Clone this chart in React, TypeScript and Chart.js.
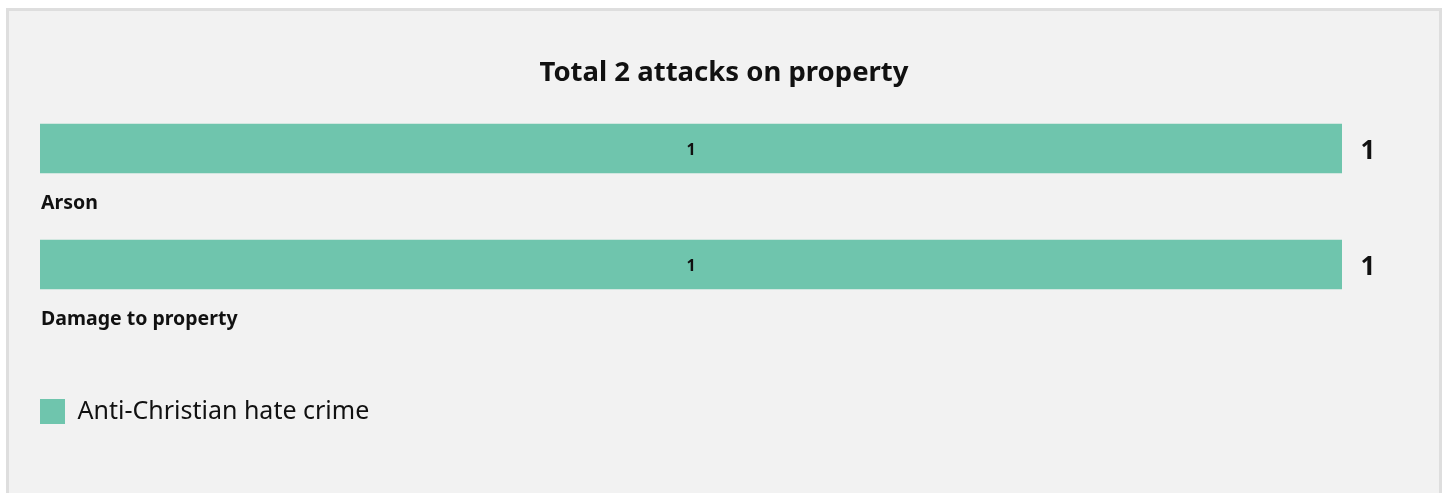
import React, { useEffect, useRef } from "react";
import { Chart, registerables } from "chart.js";

Chart.register(...registerables);

const categories = ["Arson", "Damage to property"];
const seriesName = "Anti-Christian hate crime";
const seriesValues = [1, 1];
const titleText = "Total 2 attacks on property";
const barColor = "#6fc5ad";
const FONT = "'Noto Sans', sans-serif";

const labelPlugin = {
  id: "barLabels",
  afterDatasetsDraw(chart: any) {
    const { ctx } = chart;
    const meta = chart.getDatasetMeta(0);
    ctx.save();
    meta.data.forEach((bar: any, i: number) => {
      const v = chart.data.datasets[0].data[i];
      const half = bar.height / 2;
      ctx.fillStyle = "#111";
      ctx.textBaseline = "middle";
      // inside label
      ctx.textAlign = "center";
      ctx.font = `bold 16px ${FONT}`;
      ctx.fillText(String(v), (bar.base + bar.x) / 2, bar.y + 2);
      // end label
      ctx.font = `bold 26px ${FONT}`;
      ctx.fillText(String(v), bar.x + 26, bar.y + 3);
      // category label below bar
      ctx.textAlign = "left";
      ctx.font = `bold 19.5px ${FONT}`;
      ctx.fillText(chart.data.labels[i], chart.chartArea.left + 1, bar.y + half + 30);
    });
    ctx.restore();
  },
};

export default function App() {
  const ref = useRef<HTMLCanvasElement>(null);
  useEffect(() => {
    if (!ref.current) return;
    const chart = new Chart(ref.current, {
      type: "bar",
      data: {
        labels: categories,
        datasets: [
          {
            label: seriesName,
            data: seriesValues,
            backgroundColor: barColor,
            borderWidth: 0,
            barThickness: 49,
          },
        ],
      },
      options: {
        indexAxis: "y",
        animation: false,
        responsive: false,
        devicePixelRatio: 1,
        layout: { padding: { left: 31, right: 31, top: 45.5, bottom: 59 } },
        scales: {
          x: {
            display: true,
            min: 0,
            max: 1,
            ticks: { display: false },
            grid: { display: false },
            border: { display: false },
            afterFit: (scale: any) => {
              scale.height = 76.5;
            },
          },
          y: {
            display: true,
            position: "right",
            ticks: { display: false },
            grid: { display: false },
            border: { display: false },
            afterFit: (scale: any) => {
              scale.width = 66;
            },
          },
        },
        plugins: {
          title: {
            display: true,
            text: titleText,
            color: "#111",
            font: { family: FONT, size: 27.5, weight: "bold" },
            padding: { top: 0, bottom: 1 },
          },
          legend: {
            position: "bottom",
            align: "start",
            labels: {
              color: "#111",
              boxWidth: 25,
              boxHeight: 25,
              padding: 0,
              font: { family: FONT, size: 25 },
            },
          },
          tooltip: { enabled: false },
        },
      },
      plugins: [labelPlugin],
    });
    return () => chart.destroy();
  }, []);

  return (
    <div
      style={{
        position: "absolute",
        left: 6,
        top: 8,
        width: 1430,
        height: 500,
        border: "3px solid #dedede",
        background: "#f2f2f2",
      }}
    >
      <canvas ref={ref} width={1430} height={482} style={{ display: "block" }} />
    </div>
  );
}
